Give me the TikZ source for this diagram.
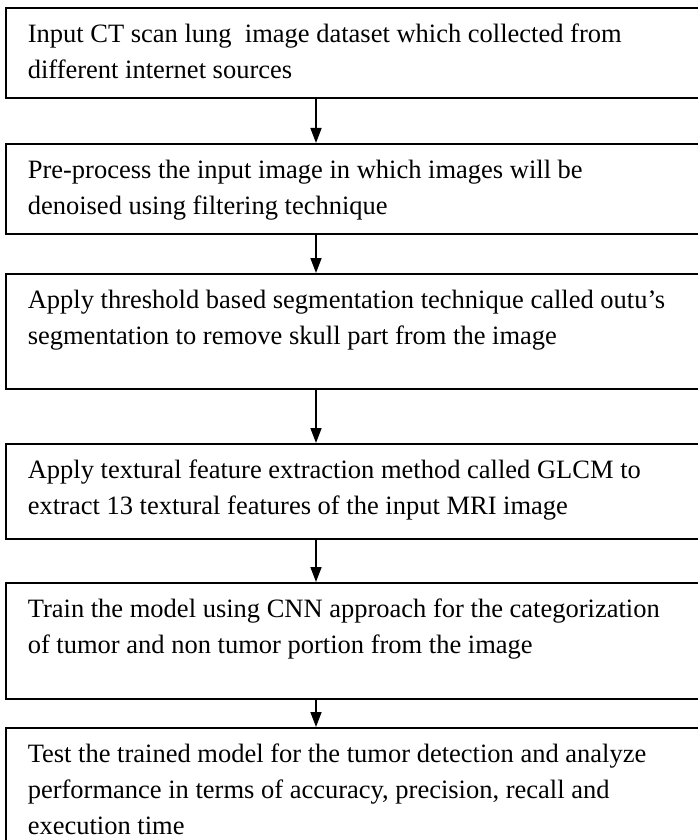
\documentclass[tikz,border=0pt]{standalone}
\usepackage{fontspec}
\setmainfont{Liberation Serif}
\usetikzlibrary{arrows.meta}

% top-aligned text body of a step box: #1 = box height, #2 = text
\newcommand{\stepbody}[2]{\begin{minipage}[t][#1][t]{660pt}\raggedright\rule{0pt}{35pt}#2\end{minipage}}

\tikzset{
    stepbox/.style={draw, line width=1.6pt, anchor=north west, inner xsep=22pt, inner ysep=0pt,
        font=\fontsize{26.5}{36}\selectfont},
    flowarrow/.style={line width=1.6pt, -{Triangle[width=11pt, length=15pt]}}
}

\begin{document}
\begin{tikzpicture}[x=1pt, y=1pt]
    \useasboundingbox (0,0) rectangle (697,-840);

    % Steps, top to bottom
    \node[stepbox] (input) at (5,-7) {\stepbody{90pt}{Input CT scan lung\ \ image dataset which collected from\\ different internet sources}};
    \node[stepbox] (preproc) at (5,-143) {\stepbody{90pt}{Pre-process the input image in which images will be\\ denoised using filtering technique}};
    \node[stepbox] (segment) at (5,-273) {\stepbody{115pt}{Apply threshold based segmentation technique called outu’s\\ segmentation to remove skull part from the image}};
    \node[stepbox] (feature) at (5,-443) {\stepbody{95pt}{Apply textural feature extraction method called GLCM to\\ extract 13 textural features of the input MRI image}};
    \node[stepbox] (train) at (5,-582) {\stepbody{116pt}{Train the model using CNN approach for the categorization\\ of tumor and non tumor portion from the image}};
    \node[stepbox] (test) at (5,-727) {\stepbody{130pt}{Test the trained model for the tumor detection and analyze\\ performance in terms of accuracy, precision, recall and\\ execution time}};

    % Arrows between the steps
    \draw[flowarrow] ([xshift=311pt]input.south west) -- ([xshift=311pt]preproc.north west);
    \draw[flowarrow] ([xshift=311pt]preproc.south west) -- ([xshift=311pt]segment.north west);
    \draw[flowarrow] ([xshift=311pt]segment.south west) -- ([xshift=311pt]feature.north west);
    \draw[flowarrow] ([xshift=311pt]feature.south west) -- ([xshift=311pt]train.north west);
    \draw[flowarrow] ([xshift=311pt]train.south west) -- ([xshift=311pt]test.north west);
\end{tikzpicture}
\end{document}
